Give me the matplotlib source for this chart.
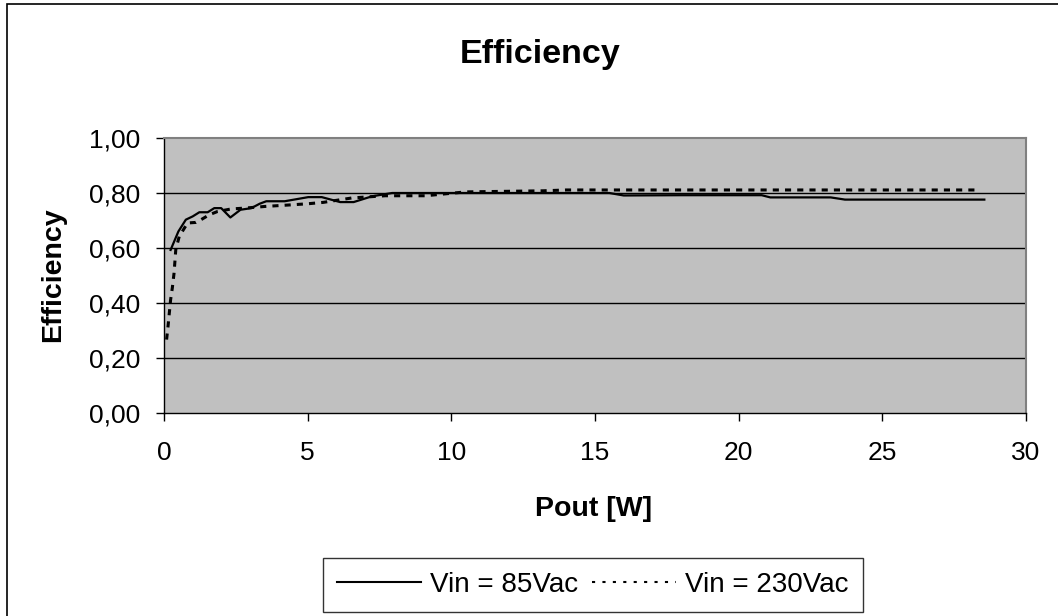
import matplotlib
matplotlib.use("Agg")
import matplotlib.pyplot as plt
from matplotlib.lines import Line2D
from matplotlib.patches import Rectangle

# --- data ---
pout_85 = [0.23, 0.50, 0.76, 1.00, 1.23, 1.52, 1.75, 1.99, 2.31, 2.66, 3.04, 3.33,
           3.56, 4.20, 5.02, 5.49, 6.13, 6.60, 7.24, 7.94, 10.0, 12.0, 15.5, 16.0,
           18.0, 20.8, 21.1, 23.2, 23.7, 26.0, 28.55]
eff_85 = [0.593, 0.660, 0.703, 0.715, 0.730, 0.730, 0.745, 0.745, 0.711, 0.739, 0.745, 0.761,
          0.770, 0.770, 0.785, 0.785, 0.767, 0.767, 0.788, 0.800, 0.800, 0.800, 0.800, 0.791,
          0.792, 0.792, 0.784, 0.784, 0.776, 0.776, 0.776]

pout_230 = [0.09, 0.14, 0.23, 0.29, 0.35, 0.41, 0.53, 0.82, 1.11, 1.29, 1.58, 1.87,
            2.34, 2.80, 3.50, 4.44, 5.02, 5.55, 6.54, 7.70, 8.53, 9.10, 9.70, 10.5,
            13.2, 14.0, 20.0, 28.4]
eff_230 = [0.267, 0.315, 0.412, 0.455, 0.509, 0.594, 0.642, 0.691, 0.693, 0.703, 0.721, 0.733,
           0.742, 0.745, 0.751, 0.757, 0.761, 0.766, 0.782, 0.790, 0.790, 0.790, 0.796, 0.804,
           0.808, 0.811, 0.811, 0.811]

labels = ['Vin = 85Vac', 'Vin = 230Vac']
y_ticks = [0.0, 0.2, 0.4, 0.6, 0.8, 1.0]
y_ticklabels = ['0,00', '0,20', '0,40', '0,60', '0,80', '1,00']
x_ticks = [0, 5, 10, 15, 20, 25, 30]

plt.rcParams['font.family'] = ['Liberation Sans', 'DejaVu Sans']

W, H = 1058, 616
fig = plt.figure(figsize=(W / 100, H / 100), dpi=100)
ax = fig.add_axes([164 / W, 1 - 413 / H, (1026 - 164) / W, (413 - 138) / H])
ax.set_facecolor('#C0C0C0')

# grid
for yv in y_ticks[1:-1]:
    ax.axhline(yv, color='black', lw=1.0, zorder=1)

ax.plot(pout_85, eff_85, color='black', lw=1.6, zorder=3)
ax.plot(pout_230, eff_230, color='black', lw=2.2, dashes=(2.0, 2.0), zorder=3)

ax.set_xlim(0, 30)
ax.set_ylim(0, 1)
ax.set_xticks(x_ticks)
ax.set_xticklabels([str(v) for v in x_ticks])
ax.set_yticks(y_ticks)
ax.set_yticklabels(y_ticklabels)
ax.tick_params(axis='both', direction='out', length=6, width=1, labelsize=19)
ax.tick_params(axis='x', pad=14)
ax.tick_params(axis='y', pad=11)

for side in ['top', 'right']:
    ax.spines[side].set_color('#808080')
    ax.spines[side].set_linewidth(1.5)
for side in ['left', 'bottom']:
    ax.spines[side].set_color('black')
    ax.spines[side].set_linewidth(1.0)

fig.text(540 / W, 1 - 55 / H, 'Efficiency', ha='center', va='center',
         fontsize=24.5, fontweight='bold')
fig.text(53 / W, 1 - 275 / H, 'Efficiency', ha='center', va='center',
         rotation=90, fontsize=20.5, fontweight='bold')
fig.text(594 / W, 1 - 509 / H, 'Pout [W]', ha='center', va='center',
         fontsize=20.5, fontweight='bold')

handles = [Line2D([], [], color='black', lw=1.5),
           Line2D([], [], color='black', lw=1.5, dashes=(1.5, 3.5))]
leg = fig.legend(handles, labels, loc='center', ncol=2,
                 bbox_to_anchor=(593 / W, 1 - 585 / H), bbox_transform=fig.transFigure,
                 fontsize=20, frameon=True, fancybox=False, handlelength=3.0,
                 handletextpad=0.35, columnspacing=0.5, borderpad=0.5)
leg.get_frame().set_edgecolor('black')
leg.get_frame().set_linewidth(1.0)

# outer chart border (right/bottom fall outside the picture)
fig.patches.append(Rectangle((7 / W, -0.05), 1.1, 1 - 4 / H + 0.05,
                             transform=fig.transFigure, fill=False,
                             edgecolor='black', lw=1.2))

fig.savefig('out.png', dpi=100)
